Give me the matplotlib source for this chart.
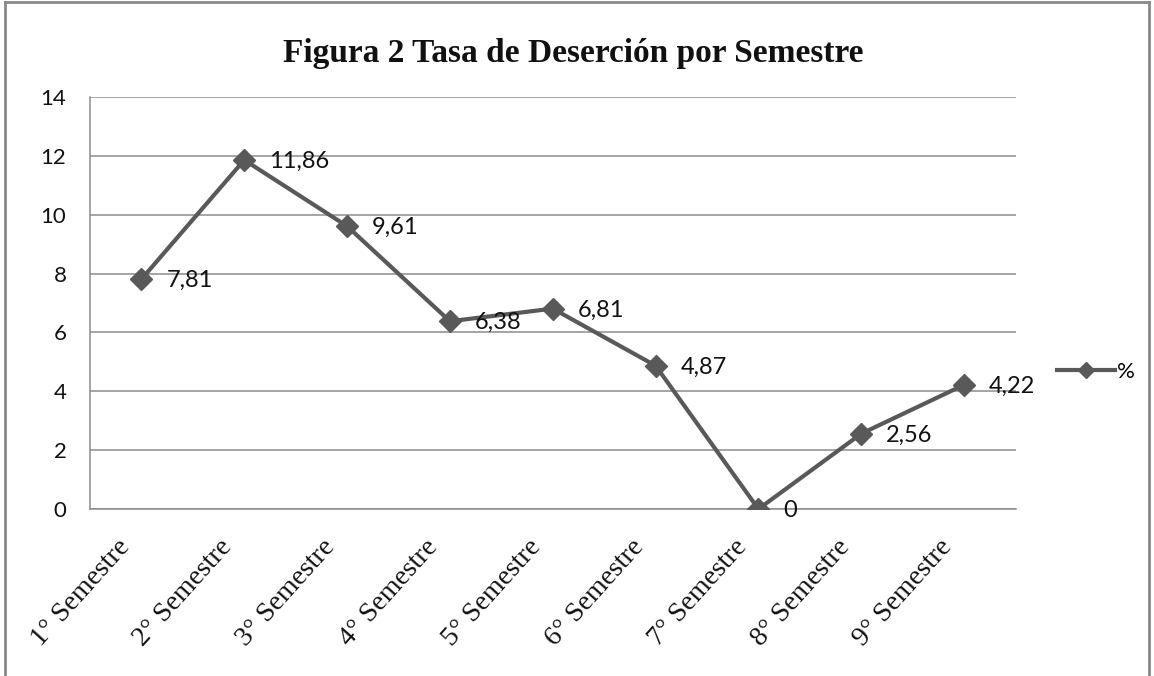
import matplotlib.pyplot as plt
from matplotlib.lines import Line2D
from matplotlib.transforms import ScaledTranslation

# datos
semestres = ['1° Semestre', '2° Semestre', '3° Semestre', '4° Semestre', '5° Semestre',
             '6° Semestre', '7° Semestre', '8° Semestre', '9° Semestre']
tasa = [7.81, 11.86, 9.61, 6.38, 6.81, 4.87, 0, 2.56, 4.22]
etiquetas = ['7,81', '11,86', '9,61', '6,38', '6,81', '4,87', '0', '2,56', '4,22']
y_ticks = [0, 2, 4, 6, 8, 10, 12, 14]

COLOR = '#595959'
GRID = '#8c8c8c'

fig = plt.figure(figsize=(11.54, 6.76), dpi=100)
ax = fig.add_axes([0.078, 0.247, 0.802, 0.6095])

x = list(range(len(semestres)))
ax.plot(x, tasa, color=COLOR, lw=3, marker='D', ms=11, label='%', zorder=3)

for xi, yi, t in zip(x, tasa, etiquetas):
    ax.annotate(t, (xi, yi), xytext=(18, -1), textcoords='offset points',
                ha='left', va='center', fontsize=17, family='Lato', color='#111111')

ax.set_xlim(-0.5, len(semestres) - 0.5)
ax.set_ylim(0, 14)
ax.set_yticks(y_ticks)
ax.set_yticklabels([str(v) for v in y_ticks], family='Lato', fontsize=16, color='#111111')
ax.yaxis.grid(True, color=GRID, lw=1.1)
ax.set_axisbelow(True)
ax.tick_params(length=0)
ax.tick_params(axis='y', pad=17)

ax.set_xticks(x)
ax.set_xticklabels(semestres, rotation=48, ha='right', va='center', rotation_mode='anchor',
                   family='Liberation Serif', fontsize=20, color='#111111')
ax.tick_params(axis='x', pad=16)
# desplazar un poco las etiquetas hacia abajo a la izquierda
desplaza = ScaledTranslation(-0.16, -0.12, fig.dpi_scale_trans)
for lab in ax.get_xticklabels():
    lab.set_transform(lab.get_transform() + desplaza)

for s in ['top', 'right']:
    ax.spines[s].set_visible(False)
for s in ['left', 'bottom']:
    ax.spines[s].set_color(GRID)
    ax.spines[s].set_linewidth(1.1)

fig.suptitle('Figura 2 Tasa de Deserción por Semestre', x=0.497, y=0.944,
             family='Liberation Serif', fontweight='bold', fontsize=24, color='#111111')

leg = ax.legend(loc='center left', bbox_to_anchor=(1.023, 0.333), frameon=False,
                handlelength=2.6, handletextpad=0.1, markerscale=0.75,
                prop={'family': 'Lato', 'size': 16})

# marco del grafico
fig.add_artist(Line2D([0.004, 0.996], [0.997, 0.997], color='#888888', lw=2, transform=fig.transFigure))
fig.add_artist(Line2D([0.004, 0.004], [0.0, 0.997], color='#888888', lw=2, transform=fig.transFigure))
fig.add_artist(Line2D([0.996, 0.996], [0.0, 0.997], color='#888888', lw=2, transform=fig.transFigure))

fig.savefig('out.png', dpi=100)
